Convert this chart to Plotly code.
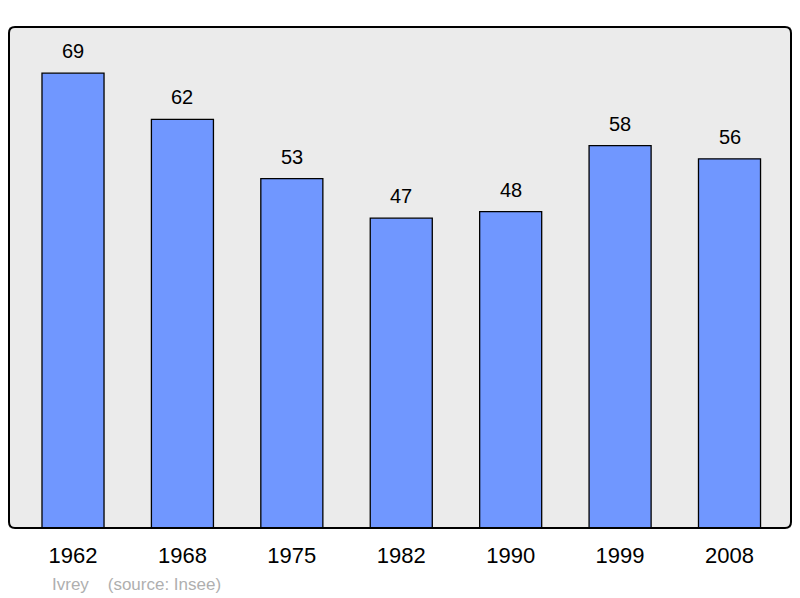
import plotly.graph_objects as go

years = ["1962", "1968", "1975", "1982", "1990", "1999", "2008"]
population = [69, 62, 53, 47, 48, 58, 56]
positions = list(range(len(years)))

W, H = 800, 598
L, R, T, B = 9, 9, 27, 70
pw, ph = W - L - R, H - T - B
FONT = "Liberation Sans, Arial, sans-serif"

fig = go.Figure()
fig.add_trace(go.Bar(
    x=positions, y=population, width=0.567,
    marker=dict(color="#7097FF", line=dict(color="#000000", width=1.3)),
    hoverinfo="skip",
))
for xi, v in zip(positions, population):
    fig.add_annotation(x=xi, y=v, text=str(v), showarrow=False, yshift=22,
                       font=dict(size=20, color="#000000", family=FONT))

fig.add_annotation(xref="paper", yref="paper", x=(50 - L) / pw, y=-(584 - 528) / ph,
                   xanchor="left", yanchor="middle", showarrow=False,
                   text="Ivrey &nbsp;&nbsp;&nbsp;(source: Insee)",
                   font=dict(size=17, color="#AFAFAF", family=FONT))

# rounded border of plot area
rx = 6 / pw
ry = 6 / ph
path = (f"M {rx},0 L {1-rx},0 Q 1,0 1,{ry} L 1,{1-ry} Q 1,1 {1-rx},1 "
        f"L {rx},1 Q 0,1 0,{1-ry} L 0,{ry} Q 0,0 {rx},0 Z")
fig.add_shape(type="path", xref="paper", yref="paper", path=path,
              line=dict(color="#000000", width=2), layer="above")

fig.update_layout(
    width=W, height=H,
    margin=dict(l=L, r=R, t=T, b=B),
    paper_bgcolor="#FFFFFF",
    plot_bgcolor="#EBEBEB",
    showlegend=False,
    font=dict(family=FONT, color="#000000"),
    xaxis=dict(range=[-0.585, 6.562], tickvals=positions, ticktext=years,
               showgrid=False, zeroline=False, showline=False, ticks="",
               tickfont=dict(size=22, color="#000000"), ticklabelstandoff=12, fixedrange=True),
    yaxis=dict(range=[0, 76], showgrid=False, zeroline=False, showticklabels=False,
               showline=False, ticks="", fixedrange=True),
)
fig.write_html("out.html", config={"displayModeBar": False},
               post_script="document.body.style.margin='0';document.body.style.overflow='hidden';")
